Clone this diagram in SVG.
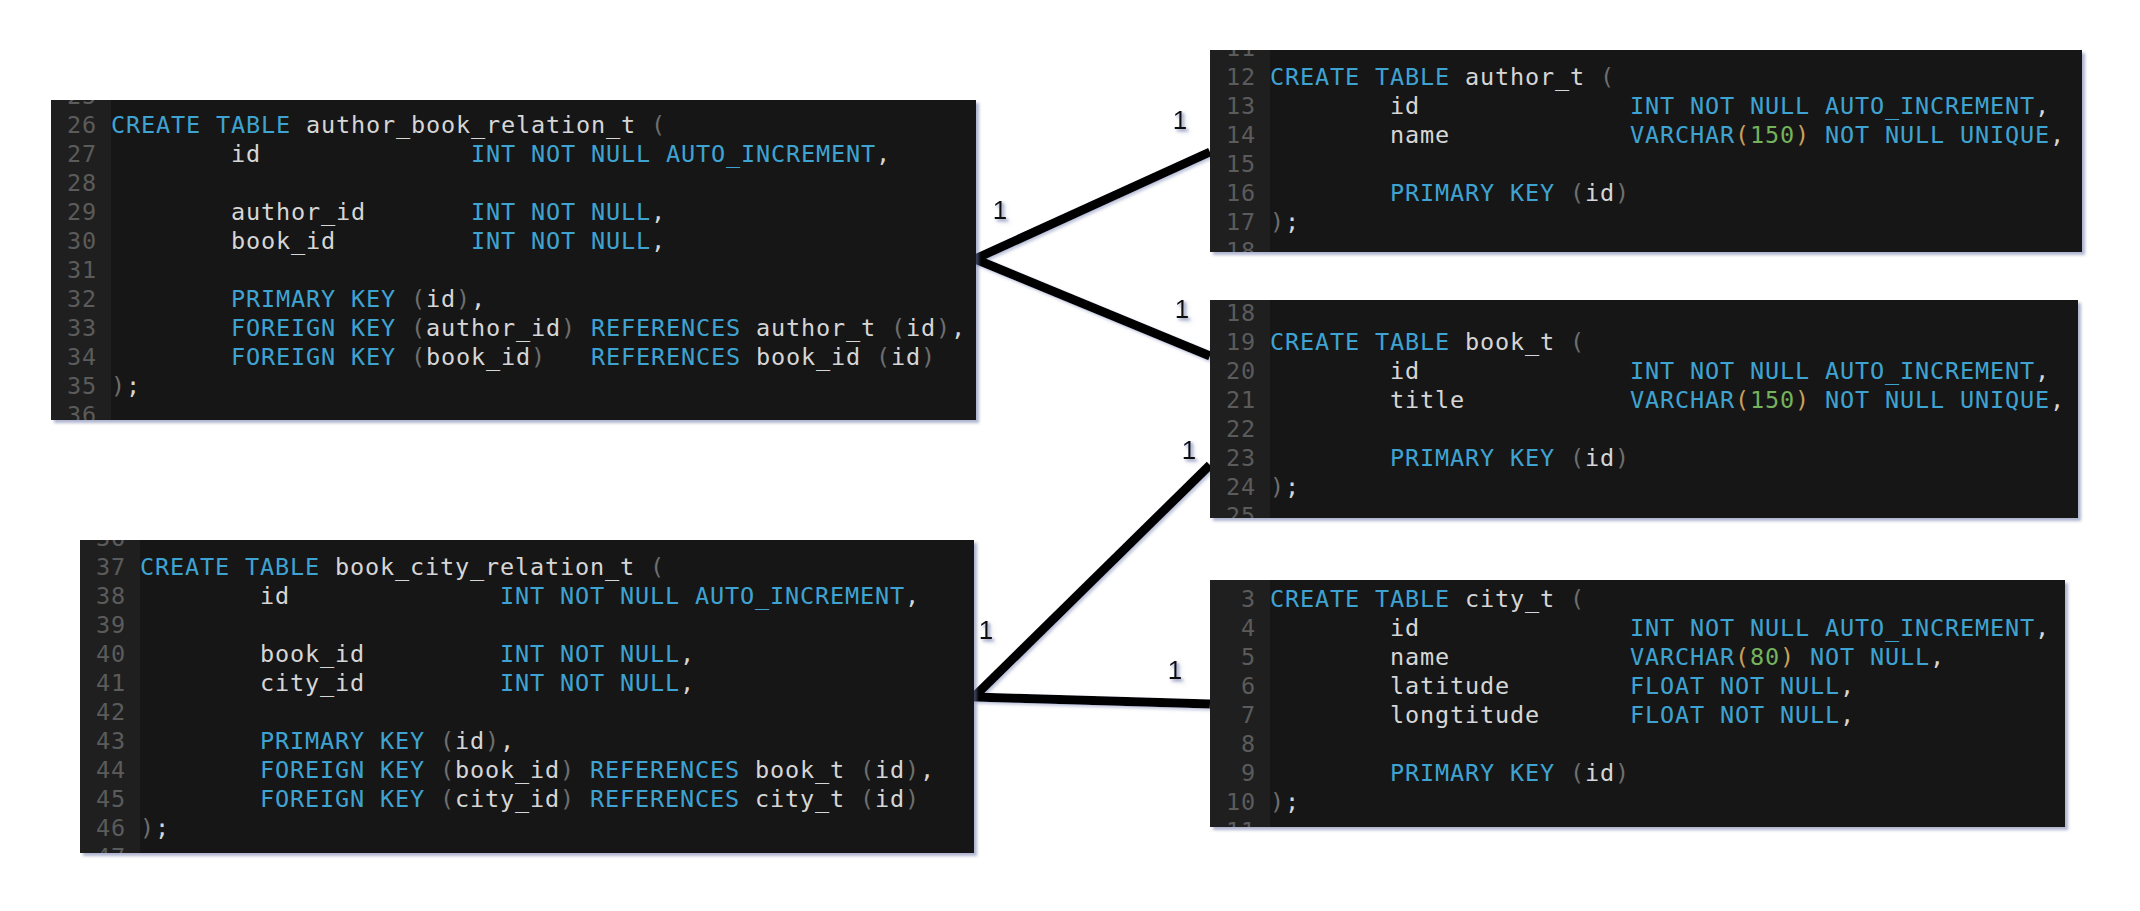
<svg xmlns="http://www.w3.org/2000/svg" width="2140" height="911" viewBox="0 0 2140 911">
<style>
text{white-space:pre}
.code{font-family:"DejaVu Sans Mono","Liberation Mono",monospace;font-size:23.5px;letter-spacing:0.85px;fill:#d6d6d6}
.ln{font-family:"DejaVu Sans Mono","Liberation Mono",monospace;font-size:23.5px;letter-spacing:0.85px;fill:#5b5b5b;text-anchor:end}
.kw{fill:#3fa3d2}
.p{fill:#6e6e6e}
.n{fill:#74b25c}
.o{fill:#c9a05a}
.bg{fill:#171717}
.gut{fill:#1f1f1f}
.lbl{font-family:"Liberation Sans",Arial,sans-serif;font-size:26px;fill:#111;text-anchor:middle}
.conn{stroke:#000;stroke-width:9;fill:none}
</style>
<defs>
<filter id="sh" x="-5%" y="-5%" width="110%" height="115%">
<feDropShadow dx="3" dy="3" stdDeviation="1.5" flood-color="#6c78a8" flood-opacity="0.55"/>
</filter>
<filter id="lsh" x="-10%" y="-10%" width="120%" height="120%">
<feDropShadow dx="2" dy="2" stdDeviation="1.5" flood-color="#7c86b4" flood-opacity="0.5"/>
</filter>
<clipPath id="cA"><rect x="51" y="100" width="925" height="320"/></clipPath>
<clipPath id="cB"><rect x="1210" y="50" width="872" height="202"/></clipPath>
<clipPath id="cC"><rect x="1210" y="300" width="868" height="218"/></clipPath>
<clipPath id="cD"><rect x="80" y="540" width="894" height="313"/></clipPath>
<clipPath id="cE"><rect x="1210" y="580" width="855" height="247"/></clipPath>
</defs>
<rect width="2140" height="911" fill="#ffffff"/>

<g id="connectors" filter="url(#lsh)">
<line class="conn" x1="975" y1="259" x2="1210" y2="152"/>
<line class="conn" x1="975" y1="259" x2="1210" y2="356"/>
<line class="conn" x1="974" y1="697" x2="1210" y2="465"/>
<line class="conn" x1="974" y1="697" x2="1210" y2="704"/>
<g filter="url(#lsh)">
<text class="lbl" x="1180" y="129">1</text>
<text class="lbl" x="1000" y="219">1</text>
<text class="lbl" x="1182" y="318">1</text>
<text class="lbl" x="1189" y="459">1</text>
<text class="lbl" x="986" y="639">1</text>
<text class="lbl" x="1175" y="679">1</text>
</g>
</g>

<g id="author_book_relation_t">
<rect class="bg" x="51" y="100" width="925" height="320" filter="url(#sh)"/>
<g clip-path="url(#cA)">
<rect class="gut" x="51" y="100" width="60" height="320"/>
<text class="ln" x="97" y="104.3">25</text>
<text class="ln" x="97" y="133.3">26</text>
<text class="ln" x="97" y="162.3">27</text>
<text class="ln" x="97" y="191.3">28</text>
<text class="ln" x="97" y="220.3">29</text>
<text class="ln" x="97" y="249.3">30</text>
<text class="ln" x="97" y="278.3">31</text>
<text class="ln" x="97" y="307.3">32</text>
<text class="ln" x="97" y="336.3">33</text>
<text class="ln" x="97" y="365.3">34</text>
<text class="ln" x="97" y="394.3">35</text>
<text class="ln" x="97" y="423.3">36</text>
<text class="code" x="111" y="133.3"><tspan class="kw">CREATE TABLE</tspan> author_book_relation_t <tspan class="p">(</tspan></text>
<text class="code" x="111" y="162.3">        id              <tspan class="kw">INT NOT NULL AUTO_INCREMENT</tspan>,</text>
<text class="code" x="111" y="220.3">        author_id       <tspan class="kw">INT NOT NULL</tspan>,</text>
<text class="code" x="111" y="249.3">        book_id         <tspan class="kw">INT NOT NULL</tspan>,</text>
<text class="code" x="111" y="307.3">        <tspan class="kw">PRIMARY KEY</tspan> <tspan class="p">(</tspan>id<tspan class="p">)</tspan>,</text>
<text class="code" x="111" y="336.3">        <tspan class="kw">FOREIGN KEY</tspan> <tspan class="p">(</tspan>author_id<tspan class="p">)</tspan> <tspan class="kw">REFERENCES</tspan> author_t <tspan class="p">(</tspan>id<tspan class="p">)</tspan>,</text>
<text class="code" x="111" y="365.3">        <tspan class="kw">FOREIGN KEY</tspan> <tspan class="p">(</tspan>book_id<tspan class="p">)</tspan>   <tspan class="kw">REFERENCES</tspan> book_id <tspan class="p">(</tspan>id<tspan class="p">)</tspan></text>
<text class="code" x="111" y="394.3"><tspan class="p">)</tspan>;</text>
</g>
</g>

<g id="author_t">
<rect class="bg" x="1210" y="50" width="872" height="202" filter="url(#sh)"/>
<g clip-path="url(#cB)">
<rect class="gut" x="1210" y="50" width="60" height="202"/>
<text class="ln" x="1256" y="56">11</text>
<text class="ln" x="1256" y="85">12</text>
<text class="ln" x="1256" y="114">13</text>
<text class="ln" x="1256" y="143">14</text>
<text class="ln" x="1256" y="172">15</text>
<text class="ln" x="1256" y="201">16</text>
<text class="ln" x="1256" y="230">17</text>
<text class="ln" x="1256" y="259">18</text>
<text class="code" x="1270" y="85"><tspan class="kw">CREATE TABLE</tspan> author_t <tspan class="p">(</tspan></text>
<text class="code" x="1270" y="114">        id              <tspan class="kw">INT NOT NULL AUTO_INCREMENT</tspan>,</text>
<text class="code" x="1270" y="143">        name            <tspan class="kw">VARCHAR</tspan><tspan class="o">(</tspan><tspan class="n">150</tspan><tspan class="o">)</tspan> <tspan class="kw">NOT NULL UNIQUE</tspan>,</text>
<text class="code" x="1270" y="201">        <tspan class="kw">PRIMARY KEY</tspan> <tspan class="p">(</tspan>id<tspan class="p">)</tspan></text>
<text class="code" x="1270" y="230"><tspan class="p">)</tspan>;</text>
</g>
</g>

<g id="book_t">
<rect class="bg" x="1210" y="300" width="868" height="218" filter="url(#sh)"/>
<g clip-path="url(#cC)">
<rect class="gut" x="1210" y="300" width="60" height="218"/>
<text class="ln" x="1256" y="321">18</text>
<text class="ln" x="1256" y="350">19</text>
<text class="ln" x="1256" y="379">20</text>
<text class="ln" x="1256" y="408">21</text>
<text class="ln" x="1256" y="437">22</text>
<text class="ln" x="1256" y="466">23</text>
<text class="ln" x="1256" y="495">24</text>
<text class="ln" x="1256" y="524">25</text>
<text class="code" x="1270" y="350"><tspan class="kw">CREATE TABLE</tspan> book_t <tspan class="p">(</tspan></text>
<text class="code" x="1270" y="379">        id              <tspan class="kw">INT NOT NULL AUTO_INCREMENT</tspan>,</text>
<text class="code" x="1270" y="408">        title           <tspan class="kw">VARCHAR</tspan><tspan class="o">(</tspan><tspan class="n">150</tspan><tspan class="o">)</tspan> <tspan class="kw">NOT NULL UNIQUE</tspan>,</text>
<text class="code" x="1270" y="466">        <tspan class="kw">PRIMARY KEY</tspan> <tspan class="p">(</tspan>id<tspan class="p">)</tspan></text>
<text class="code" x="1270" y="495"><tspan class="p">)</tspan>;</text>
</g>
</g>

<g id="book_city_relation_t">
<rect class="bg" x="80" y="540" width="894" height="313" filter="url(#sh)"/>
<g clip-path="url(#cD)">
<rect class="gut" x="80" y="540" width="60" height="313"/>
<text class="ln" x="126" y="546">36</text>
<text class="ln" x="126" y="575">37</text>
<text class="ln" x="126" y="604">38</text>
<text class="ln" x="126" y="633">39</text>
<text class="ln" x="126" y="662">40</text>
<text class="ln" x="126" y="691">41</text>
<text class="ln" x="126" y="720">42</text>
<text class="ln" x="126" y="749">43</text>
<text class="ln" x="126" y="778">44</text>
<text class="ln" x="126" y="807">45</text>
<text class="ln" x="126" y="836">46</text>
<text class="ln" x="126" y="865">47</text>
<text class="code" x="140" y="575"><tspan class="kw">CREATE TABLE</tspan> book_city_relation_t <tspan class="p">(</tspan></text>
<text class="code" x="140" y="604">        id              <tspan class="kw">INT NOT NULL AUTO_INCREMENT</tspan>,</text>
<text class="code" x="140" y="662">        book_id         <tspan class="kw">INT NOT NULL</tspan>,</text>
<text class="code" x="140" y="691">        city_id         <tspan class="kw">INT NOT NULL</tspan>,</text>
<text class="code" x="140" y="749">        <tspan class="kw">PRIMARY KEY</tspan> <tspan class="p">(</tspan>id<tspan class="p">)</tspan>,</text>
<text class="code" x="140" y="778">        <tspan class="kw">FOREIGN KEY</tspan> <tspan class="p">(</tspan>book_id<tspan class="p">)</tspan> <tspan class="kw">REFERENCES</tspan> book_t <tspan class="p">(</tspan>id<tspan class="p">)</tspan>,</text>
<text class="code" x="140" y="807">        <tspan class="kw">FOREIGN KEY</tspan> <tspan class="p">(</tspan>city_id<tspan class="p">)</tspan> <tspan class="kw">REFERENCES</tspan> city_t <tspan class="p">(</tspan>id<tspan class="p">)</tspan></text>
<text class="code" x="140" y="836"><tspan class="p">)</tspan>;</text>
</g>
</g>

<g id="city_t">
<rect class="bg" x="1210" y="580" width="855" height="247" filter="url(#sh)"/>
<g clip-path="url(#cE)">
<rect class="gut" x="1210" y="580" width="60" height="247"/>
<text class="ln" x="1256" y="606.5">3</text>
<text class="ln" x="1256" y="635.5">4</text>
<text class="ln" x="1256" y="664.5">5</text>
<text class="ln" x="1256" y="693.5">6</text>
<text class="ln" x="1256" y="722.5">7</text>
<text class="ln" x="1256" y="751.5">8</text>
<text class="ln" x="1256" y="780.5">9</text>
<text class="ln" x="1256" y="809.5">10</text>
<text class="ln" x="1256" y="838.5">11</text>
<text class="code" x="1270" y="606.5"><tspan class="kw">CREATE TABLE</tspan> city_t <tspan class="p">(</tspan></text>
<text class="code" x="1270" y="635.5">        id              <tspan class="kw">INT NOT NULL AUTO_INCREMENT</tspan>,</text>
<text class="code" x="1270" y="664.5">        name            <tspan class="kw">VARCHAR</tspan><tspan class="o">(</tspan><tspan class="n">80</tspan><tspan class="o">)</tspan> <tspan class="kw">NOT NULL</tspan>,</text>
<text class="code" x="1270" y="693.5">        latitude        <tspan class="kw">FLOAT NOT NULL</tspan>,</text>
<text class="code" x="1270" y="722.5">        longtitude      <tspan class="kw">FLOAT NOT NULL</tspan>,</text>
<text class="code" x="1270" y="780.5">        <tspan class="kw">PRIMARY KEY</tspan> <tspan class="p">(</tspan>id<tspan class="p">)</tspan></text>
<text class="code" x="1270" y="809.5"><tspan class="p">)</tspan>;</text>
</g>
</g>
</svg>
